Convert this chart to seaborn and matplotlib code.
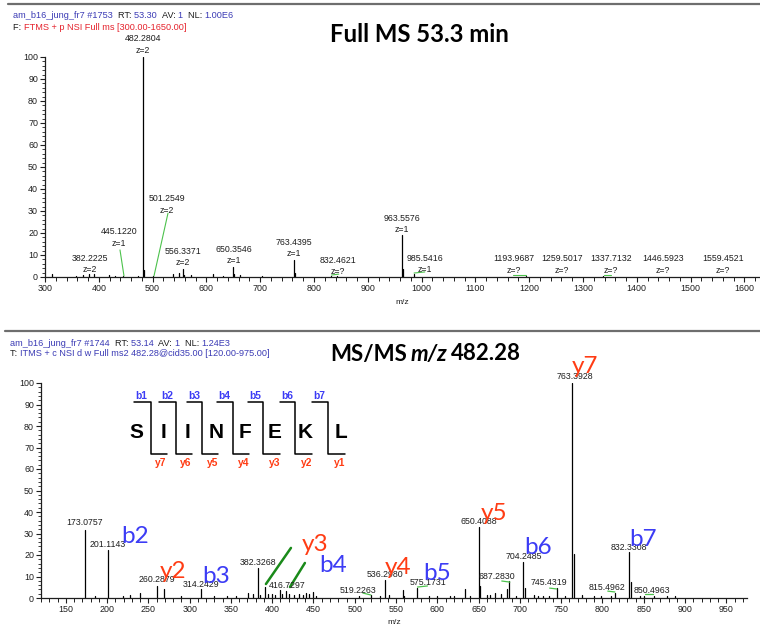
import matplotlib
matplotlib.use("Agg")
import matplotlib.pyplot as plt
from matplotlib.lines import Line2D
from matplotlib.ticker import MultipleLocator
import pandas as pd
import seaborn as sns

# ---------------- Full MS scan #1753 (RT 53.30) ----------------
full_mz = [313.0, 358.0, 371.0, 382.2225, 391.0, 419.0, 430.0, 445.1220, 472.0,
           482.2804, 484.2, 501.2549, 538.0, 549.0, 556.3371, 558.0, 571.0, 612.0,
           631.0, 650.3546, 652.0, 662.0, 703.0, 763.4395, 765.0, 832.4621, 843.0,
           963.5576, 965.0, 985.5416, 1193.9687, 1259.5017, 1337.7132, 1446.5923,
           1559.4521]
full_int = [1.2, 0.5, 1.0, 1.5, 1.5, 0.8, 0.5, 0.3, 0.5,
            100.0, 3.0, 0.6, 1.2, 1.7, 3.6, 1.0, 0.8, 1.2,
            0.5, 4.5, 1.5, 0.8, 0.6, 7.7, 2.0, 0.4, 0.4,
            19.0, 3.5, 1.5, 0.3, 0.2, 0.3, 0.2,
            0.2]
full_label_mz = [382.2225, 445.1220, 482.2804, 501.2549, 556.3371, 650.3546,
                 763.4395, 832.4621, 963.5576, 985.5416, 1193.9687, 1259.5017,
                 1337.7132, 1446.5923, 1559.4521]
full_label_z = ["z=2", "z=1", "z=2", "z=2", "z=2", "z=1", "z=1", "z=?", "z=1",
                "z=1", "z=?", "z=?", "z=?", "z=?", "z=?"]
full_xticks = list(range(300, 1601, 100))

# ---------------- MS/MS scan #1744 of m/z 482.28 ----------------
ms2_mz = [173.0757, 185.0, 201.1143, 219.0, 228.0, 240.0, 260.2879, 269.0, 290.0,
          314.2429, 330.0, 345.0, 356.0, 371.0, 377.0, 382.3268, 385.0, 391.0,
          395.0, 400.0, 403.0, 409.0, 412.0, 416.7297, 420.0, 427.0, 432.0, 437.0,
          441.0, 444.0, 449.0, 453.0, 505.0, 519.2263, 530.0, 536.2980, 542.0,
          558.0, 560.0, 575.1731, 590.0, 600.0, 615.0, 620.0, 633.0, 640.0,
          650.4088, 652.0, 660.0, 664.0, 670.0, 677.0, 684.0, 687.2830, 695.0,
          704.2485, 706.0, 717.0, 722.0, 728.0, 735.0, 745.4319, 755.0,
          763.3928, 765.0, 775.0, 790.0, 798.0, 810.0, 815.4962, 832.3308,
          834.0, 845.0, 850.4963, 862.0, 878.0, 888.0]
ms2_int = [31.5, 1.0, 22.3, 1.0, 1.5, 2.3, 5.7, 4.3, 1.0,
           4.2, 1.0, 1.0, 1.0, 2.5, 2.0, 14.0, 1.5, 5.0,
           2.0, 2.0, 1.5, 3.7, 2.0, 3.3, 2.0, 1.5, 2.0, 1.5,
           2.5, 2.0, 2.8, 1.0, 1.0, 1.2, 1.0, 8.4, 1.5,
           3.7, 1.0, 4.6, 1.0, 0.8, 1.0, 1.0, 4.2, 1.0,
           33.0, 5.6, 1.2, 1.5, 2.5, 2.0, 4.0, 8.0, 1.0,
           16.8, 4.6, 1.5, 1.0, 1.0, 1.0, 4.6, 0.8,
           100.0, 20.5, 1.5, 0.8, 1.0, 1.0, 2.3, 21.4,
           7.4, 0.8, 1.0, 0.8, 0.8, 0.8]
ms2_label_mz = [173.0757, 201.1143, 260.2879, 314.2429, 382.3268, 416.7297,
                519.2263, 536.2980, 575.1731, 650.4088, 687.2830, 704.2485,
                745.4319, 763.3928, 815.4962, 832.3308, 850.4963]
ms2_xticks = list(range(150, 951, 50))

# fragment ions of SIINFEKL that are marked on the spectrum
ion_names = ["b2", "y2", "b3", "y3", "b4", "y4", "b5", "y5", "b6", "y7", "b7"]
peptide = list("SIINFEKL")
b_names = ["b1", "b2", "b3", "b4", "b5", "b6", "b7"]
y_names = ["y7", "y6", "y5", "y4", "y3", "y2", "y1"]

# ---------------- style ----------------
sns.set_theme(style="ticks")
plt.rcParams["font.family"] = ["Liberation Sans", "DejaVu Sans"]
INK = "#1e1e1e"
HDR_BLUE = "#3b3bb5"
HDR_RED = "#e5232d"
ION_BLUE = "#3c3cf5"
ION_RED = "#ff3c14"
LEAD = "#4cc24c"
TITLE_FONT = ["Lato", "DejaVu Sans"]
W, H = 760, 625

fig = plt.figure(figsize=(W / 100, H / 100), dpi=100)


def fx(x):
    return x / W


def fy(y):
    return 1 - y / H


def stems(ax, mz, inten, lw=0.9):
    rows = []
    for i, (m, v) in enumerate(zip(mz, inten)):
        rows.append({"mz": m, "intensity": 0.0, "peak": i})
        rows.append({"mz": m, "intensity": v, "peak": i})
    df = pd.DataFrame(rows)
    sns.lineplot(data=df, x="mz", y="intensity", units="peak", estimator=None,
                 sort=False, color="black", lw=lw, ax=ax, legend=False)


def style_axes(ax, xmajor, xminor, xlabel_pad):
    sns.despine(ax=ax)
    for s in ("left", "bottom"):
        ax.spines[s].set_linewidth(0.9)
        ax.spines[s].set_color(INK)
    ax.set_ylim(0, 100)
    ax.yaxis.set_major_locator(MultipleLocator(10))
    ax.yaxis.set_minor_locator(MultipleLocator(2))
    ax.xaxis.set_major_locator(MultipleLocator(xmajor))
    ax.xaxis.set_minor_locator(MultipleLocator(xminor))
    ax.tick_params(axis="both", which="major", direction="out", length=3.5,
                   width=0.8, color=INK, labelsize=6.4, labelcolor=INK, pad=1.5)
    ax.tick_params(axis="y", which="minor", direction="out", length=2.2,
                   width=0.6, color=INK)
    ax.tick_params(axis="x", which="minor", direction="out", length=3.0,
                   width=0.7, color=INK)
    ax.set_xlabel("m/z", fontsize=6, color=INK, labelpad=xlabel_pad)
    ax.set_ylabel("")
    ax.grid(False)
    ax.set_facecolor("none")


def chain(ax, x, y, parts, size, weight="normal", families=None, gap=0.0):
    """Write coloured pieces of text one after another on one line."""
    fam = families or plt.rcParams["font.family"]
    s, c, st = parts[0]
    prev = fig.text(x, y, s, color=c, va="center", ha="left", style=st,
                    family=fam, fontsize=size, fontweight=weight)
    for s, c, st in parts[1:]:
        prev = ax.annotate(s, xy=(1, 0), xycoords=prev, xytext=(gap, 0),
                           textcoords="offset points", va="bottom", ha="left",
                           color=c, style=st, annotation_clip=False,
                           family=fam, fontsize=size, fontweight=weight)
    return prev


# ---------------- separators ----------------
for yy, x0 in ((4, 8), (331, 5)):
    fig.add_artist(Line2D([fx(x0), fx(W)], [fy(yy), fy(yy)], color="#6e6e6e",
                          lw=1.6, transform=fig.transFigure))

# ================= top panel: full MS =================
ax1 = fig.add_axes([fx(45), fy(277), fx(760) - fx(45), fy(57) - fy(277)])
stems(ax1, full_mz, full_int)
ax1.set_xlim(300, 1629)
style_axes(ax1, 100, 20, 4)
ax1.set_xticks(full_xticks)

# labels: (text x, text y) for the m/z line; the charge line sits below
full_text_pos = [(383.6, 8.6), (437.5, 20.5), (482.3, 108.2), (526.8, 35.5),
                 (556.5, 11.8), (651.0, 12.7), (763.0, 15.9), (844.6, 7.7),
                 (963.6, 26.8), (1006.0, 8.6), (1170.8, 8.2), (1261.0, 8.2),
                 (1352.0, 8.2), (1448.7, 8.2), (1560.0, 8.2)]
for m, z, (tx, ty) in zip(full_label_mz, full_label_z, full_text_pos):
    ax1.text(tx, ty, f"{m:.4f}", ha="center", va="center", fontsize=6.3,
             color=INK, clip_on=False)
    ax1.text(tx, ty - 5.4, z, ha="center", va="center", fontsize=6.3,
             color=INK, clip_on=False)

full_leads = [((439.4, 12.3), (446.8, 0.5)), ((528.6, 29.0), (502.6, 0.5)),
              ((832.5, 0.9), (846.0, 1.3)), ((986.0, 1.8), (1006.0, 2.3)),
              ((1170.0, 1.0), (1194.0, 1.0)), ((1339.0, 1.0), (1352.0, 1.0))]
for (x0, y0), (x1, y1) in full_leads:
    ax1.plot([x0, x1], [y0, y1], color=LEAD, lw=0.8, clip_on=False)

chain(ax1, fx(13), fy(15),
      [("am_b16_jung_fr7 #1753  ", HDR_BLUE, "normal"), ("RT: ", INK, "normal"),
       ("53.30  ", HDR_BLUE, "normal"), ("AV: ", INK, "normal"),
       ("1  ", HDR_BLUE, "normal"), ("NL: ", INK, "normal"),
       ("1.00E6", HDR_BLUE, "normal")], 6.6)
chain(ax1, fx(13), fy(27),
      [("F: ", INK, "normal"),
       ("FTMS + p NSI Full ms [300.00-1650.00]", HDR_RED, "normal")], 6.6)
chain(ax1, fx(330), fy(35), [("Full MS 53.3 min", "black", "normal")], 17.2,
      weight="bold", families=TITLE_FONT)

# ================= bottom panel: MS/MS =================
ax2 = fig.add_axes([fx(41), fy(598), fx(747) - fx(41), fy(383) - fy(598)])
stems(ax2, ms2_mz, ms2_int)
ax2.set_xlim(120, 975)
style_axes(ax2, 50, 10, 4)
ax2.set_xticks(ms2_xticks)

ms2_text_pos = [(173.3, 35.3), (201.1, 25.1), (260.3, 8.4), (314.2, 6.5),
                (382.3, 16.3), (417.8, 5.6), (503.8, 3.7), (536.5, 10.7),
                (588.5, 7.4), (650.3, 35.8), (672.0, 9.8), (704.2, 19.1),
                (735.0, 7.0), (766.5, 102.8), (805.0, 4.7), (831.9, 23.7),
                (859.7, 3.3)]
for m, (tx, ty) in zip(ms2_label_mz, ms2_text_pos):
    ax2.text(tx, ty, f"{m:.4f}", ha="center", va="center", fontsize=6.3,
             color=INK, clip_on=False)

ms2_leads = [((509.8, 2.3), (519.5, 1.4)), ((576.0, 5.1), (588.0, 5.6)),
             ((678.0, 7.9), (687.8, 7.4)), ((736.0, 4.6), (744.7, 4.2)),
             ((806.4, 3.2), (815.0, 2.8)), ((851.0, 1.9), (860.9, 1.9))]
for (x0, y0), (x1, y1) in ms2_leads:
    ax2.plot([x0, x1], [y0, y1], color=LEAD, lw=0.9, clip_on=False)

for (x0, y0), (x1, y1) in [((392.4, 6.5), (422.7, 23.3)),
                           ((421.5, 5.1), (439.6, 16.3))]:
    ax2.plot([x0, x1], [y0, y1], color="#1a8a1a", lw=1.8, clip_on=False)

ion_pos = [(233.8, 28.4), (279.8, 12.1), (331.9, 9.8), (451.7, 24.7),
           (473.5, 14.9), (552.2, 14.4), (599.4, 11.6), (668.4, 39.5),
           (721.7, 23.3), (778.6, 107.9), (848.8, 27.0)]
for name, (tx, ty) in zip(ion_names, ion_pos):
    ax2.text(tx, ty, name, ha="center", va="center", fontsize=17.5,
             color=ION_BLUE if name[0] == "b" else ION_RED,
             family=TITLE_FONT, clip_on=False)

chain(ax2, fx(10), fy(343),
      [("am_b16_jung_fr7 #1744  ", HDR_BLUE, "normal"), ("RT: ", INK, "normal"),
       ("53.14  ", HDR_BLUE, "normal"), ("AV: ", INK, "normal"),
       ("1  ", HDR_BLUE, "normal"), ("NL: ", INK, "normal"),
       ("1.24E3", HDR_BLUE, "normal")], 6.6)
chain(ax2, fx(10), fy(354),
      [("T: ", INK, "normal"),
       ("ITMS + c NSI d w Full ms2 482.28@cid35.00 [120.00-975.00]", HDR_BLUE,
        "normal")], 6.6)
chain(ax2, fx(330), fy(354),
      [("MS/MS", "black", "normal"), ("m/z", "black", "italic"),
       ("482.28", "black", "normal")], 16, weight="bold",
      families=TITLE_FONT, gap=2.6)

# ---------------- SIINFEKL fragmentation map ----------------
letter_x = [136, 163, 188, 216, 245, 275, 305, 341]
for aa, x in zip(peptide, letter_x):
    fig.text(fx(x), fy(432), aa, ha="center", va="center", fontsize=15,
             fontweight="bold", color="black")

cut_x = [151, 176, 202, 233, 263, 295, 328]
top_left = [134, 159, 187, 217, 248, 280, 312]
bot_right = [167, 192, 218, 249, 280, 312, 345]
b_lab_x = [141, 167, 194, 224, 255, 287, 319]
y_lab_x = [161, 186, 213, 244, 275, 307, 340]
for i in range(7):
    xs = [top_left[i], cut_x[i], cut_x[i], bot_right[i]]
    ys = [402, 402, 454, 454]
    fig.add_artist(Line2D([fx(v) for v in xs], [fy(v) for v in ys],
                          color="black", lw=1.1, transform=fig.transFigure))
    fig.text(fx(b_lab_x[i]), fy(396), b_names[i], ha="center", va="center",
             fontsize=7.4, fontweight="bold", color=ION_BLUE)
    fig.text(fx(y_lab_x[i]), fy(463), y_names[i], ha="center", va="center",
             fontsize=7.4, fontweight="bold", color=ION_RED)

fig.savefig("out.png", dpi=100, facecolor="white")
